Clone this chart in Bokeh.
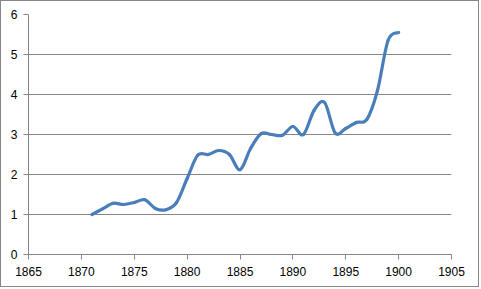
from bokeh.plotting import figure
from bokeh.models import Range1d, FixedTicker, ColumnDataSource
from bokeh.embed import file_html
from bokeh.resources import INLINE

years = list(range(1871, 1901))
values = [1.00, 1.14, 1.28, 1.25, 1.30, 1.37, 1.15, 1.12, 1.30, 1.90,
          2.48, 2.50, 2.60, 2.50, 2.12, 2.65, 3.02, 3.00, 2.98, 3.20,
          3.00, 3.60, 3.80, 3.04, 3.15, 3.30, 3.38, 4.10, 5.35, 5.55]
x_ticks = [1865, 1870, 1875, 1880, 1885, 1890, 1895, 1900, 1905]
y_ticks = [0, 1, 2, 3, 4, 5, 6]

# Smooth curve (Excel-style) as cubic Bezier segments between data points
n = len(years)
x0, y0, x1, y1, cx0, cy0, cx1, cy1 = [], [], [], [], [], [], [], []
for i in range(n - 1):
    pm = i - 1 if i > 0 else i
    pp = i + 2 if i + 2 < n else i + 1
    x0.append(years[i]); y0.append(values[i])
    x1.append(years[i + 1]); y1.append(values[i + 1])
    cx0.append(years[i] + (years[i + 1] - years[pm]) / 6)
    cy0.append(values[i] + (values[i + 1] - values[pm]) / 6)
    cx1.append(years[i + 1] - (years[pp] - years[i]) / 6)
    cy1.append(values[i + 1] - (values[pp] - values[i]) / 6)
src = ColumnDataSource(dict(x0=x0, y0=y0, x1=x1, y1=y1, cx0=cx0, cy0=cy0, cx1=cx1, cy1=cy1))

grid_col = "#868686"
p = figure(width=479, height=287, output_backend="svg", toolbar_location=None,
           x_range=Range1d(1865, 1905), y_range=Range1d(0, 6),
           min_border_left=27, min_border_right=29, min_border_top=13, min_border_bottom=34)
p.outline_line_color = None
p.background_fill_color = "white"
p.border_fill_color = "white"
p.styles = {"border": "1px solid #868686", "background-color": "white"}

p.bezier(x0="x0", y0="y0", x1="x1", y1="y1", cx0="cx0", cy0="cy0", cx1="cx1", cy1="cy1",
         source=src, line_color="#4A7EBB", line_width=3.2, line_cap="round")

p.xaxis.ticker = FixedTicker(ticks=x_ticks)
p.yaxis.ticker = FixedTicker(ticks=y_ticks)
for ax in (p.xaxis[0], p.yaxis[0]):
    ax.axis_line_color = grid_col
    ax.major_tick_line_color = grid_col
    ax.major_tick_out = 5
    ax.major_tick_in = 0
    ax.minor_tick_line_color = None
    ax.major_label_text_font = "Liberation Sans"
    ax.major_label_text_font_size = "12px"
    ax.major_label_text_color = "#000000"
p.xaxis.major_label_standoff = 7
p.yaxis.major_label_standoff = 6
p.xgrid.grid_line_color = None
p.ygrid.grid_line_color = grid_col
p.ygrid.grid_line_width = 1

open("out.html", "w").write(file_html(p, INLINE))
